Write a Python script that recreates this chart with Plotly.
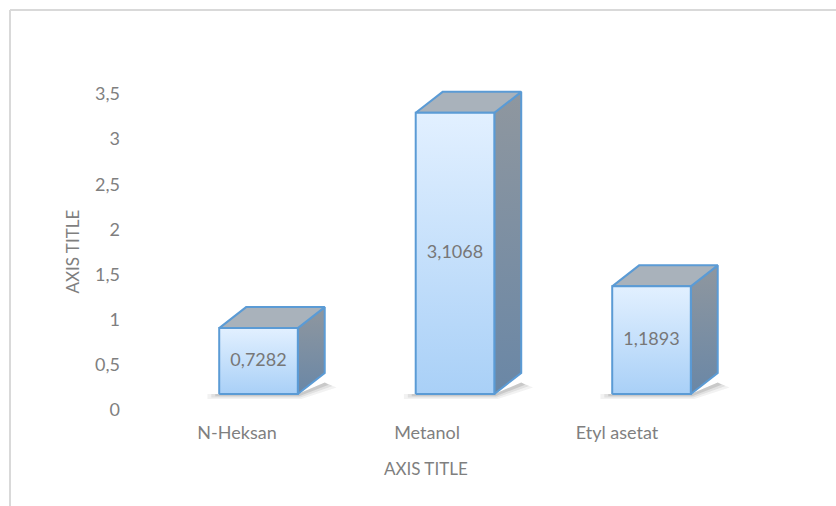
import plotly.graph_objects as go

# Extraction yield per solvent
categories = ["N-Heksan", "Metanol", "Etyl asetat"]
values = [0.7282, 3.1068, 1.1893]
value_labels = ["0,7282", "3,1068", "1,1893"]
y_tick_vals = [0, 0.5, 1, 1.5, 2, 2.5, 3, 3.5]
y_tick_text = ["0", "0,5", "1", "1,5", "2", "2,5", "3", "3,5"]

FONT = "Lato"
TEXT_GRAY = "#7f7f7f"
EDGE = "#5b9bd5"

# plot area in pixels
W, H = 836, 506
L, R, T, B = 130, 800, 60, 420


def px(x):
    return (x - L) / (R - L)


def py(y):
    return (B - y) / (B - T)


# 3D column geometry (in bar-axis units)
HALF_W = 0.2
DX = 0.137   # depth offset to the right
DY = 0.232   # depth offset upward

fig = go.Figure()

for i, v in enumerate(values):
    x0, x1 = i - HALF_W, i + HALF_W
    # soft floor shadow under the front and side bottom edges
    for k, op in enumerate([0.06, 0.08, 0.12]):
        e = 0.06 - k * 0.02
        d = 0.055 - k * 0.015
        fig.add_trace(go.Scatter(
            x=[x0 - e, x1 + e * 0.3, x1 + DX + e, x1 + DX, x1, x0 - e],
            y=[-d, -d, DY * 0.55 - d, DY * 0.55, 0, 0],
            fill="toself", mode="lines", line=dict(width=0),
            fillcolor=f"rgba(30,30,30,{op})", hoverinfo="skip",
            xaxis="x2", yaxis="y2", showlegend=False))
    # right side face
    fig.add_trace(go.Scatter(
        x=[x1, x1 + DX, x1 + DX, x1, x1],
        y=[0, DY, v + DY, v, 0],
        fill="toself", mode="lines", line=dict(color=EDGE, width=2),
        fillgradient=dict(type="vertical", start=0, stop=v + DY,
                          colorscale=[[0, "#6a87a6"], [1, "#8f979f"]]),
        hoverinfo="skip", xaxis="x2", yaxis="y2", showlegend=False))
    # top face
    fig.add_trace(go.Scatter(
        x=[x0, x0 + DX, x1 + DX, x1, x0],
        y=[v, v + DY, v + DY, v, v],
        fill="toself", mode="lines", line=dict(color=EDGE, width=2),
        fillcolor="#a9b2bb", hoverinfo="skip",
        xaxis="x2", yaxis="y2", showlegend=False))
    # front face
    fig.add_trace(go.Scatter(
        x=[x0, x1, x1, x0, x0],
        y=[0, 0, v, v, 0],
        fill="toself", mode="lines", line=dict(color=EDGE, width=2),
        fillgradient=dict(type="vertical", start=0, stop=v,
                          colorscale=[[0, "#a9d0f7"], [1, "#e2f0ff"]]),
        hoverinfo="skip", xaxis="x2", yaxis="y2", showlegend=False))

# value labels in the middle of each front face
fig.add_trace(go.Scatter(
    x=list(range(len(values))), y=[v / 2 for v in values],
    mode="text", text=value_labels,
    textfont=dict(family=FONT, size=18, color="#777777"),
    hoverinfo="skip", xaxis="x2", yaxis="y2", showlegend=False))

# invisible trace carrying the category axis
fig.add_trace(go.Scatter(
    x=list(range(len(categories))), y=[0] * len(categories),
    mode="markers", marker=dict(opacity=0), hoverinfo="skip",
    showlegend=False))

fig.update_layout(
    width=W, height=H,
    margin=dict(l=L, r=W - R, t=T, b=H - B),
    paper_bgcolor="white", plot_bgcolor="rgba(0,0,0,0)",
    font=dict(family=FONT, color=TEXT_GRAY),
    xaxis=dict(range=[-0.5632, 2.963], tickvals=[0, 1, 2], ticktext=categories,
               showgrid=False, zeroline=False, showline=False, ticks="",
               tickfont=dict(family=FONT, size=18, color=TEXT_GRAY)),
    yaxis=dict(range=[-0.1107, 3.876], tickvals=y_tick_vals, ticktext=y_tick_text,
               showgrid=False, zeroline=False, showline=False, ticks="",
               ticklabelstandoff=9,
               tickfont=dict(family=FONT, size=18, color=TEXT_GRAY)),
    xaxis2=dict(range=[-0.654, 2.7557], overlaying="x", visible=False),
    yaxis2=dict(range=[-0.2873, 3.6906], overlaying="y", visible=False),
    shapes=[
        dict(type="line", xref="paper", yref="paper",
             x0=px(10), x1=px(10), y0=py(10), y1=py(520),
             line=dict(color="#d9d9d9", width=2)),
        dict(type="line", xref="paper", yref="paper",
             x0=px(10), x1=px(850), y0=py(10), y1=py(10),
             line=dict(color="#d9d9d9", width=2)),
    ],
    annotations=[
        dict(text="AXIS TITLE", xref="paper", yref="paper",
             x=px(426), y=py(481), showarrow=False,
             font=dict(family=FONT, size=17, color=TEXT_GRAY)),
        dict(text="AXIS TITLE", xref="paper", yref="paper",
             x=px(59), y=py(252), showarrow=False, textangle=-90,
             font=dict(family=FONT, size=17, color=TEXT_GRAY)),
    ],
)

fig.write_html("out.html")
